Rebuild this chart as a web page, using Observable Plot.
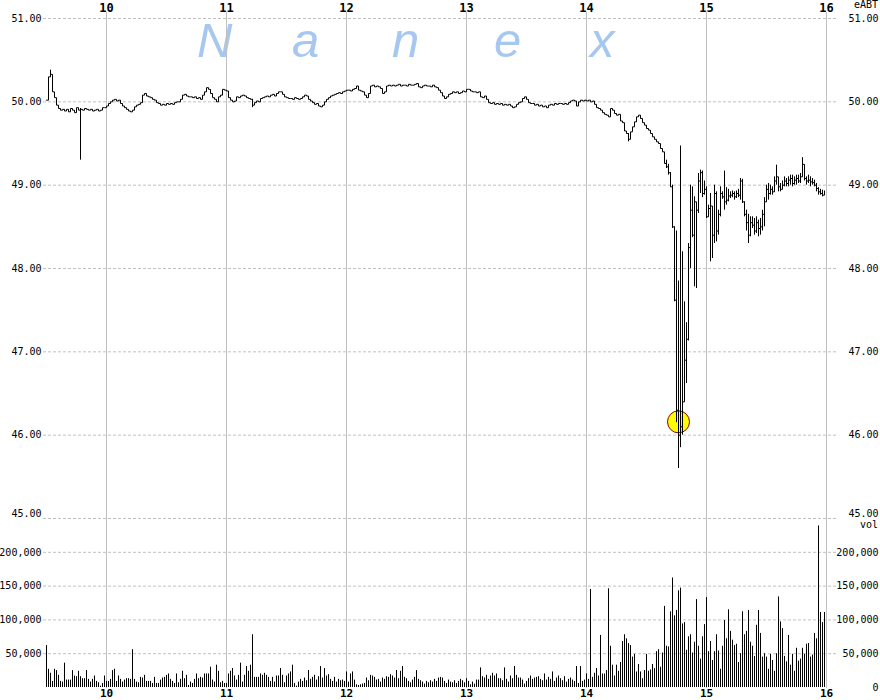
<!DOCTYPE html>
<html><head><meta charset="utf-8">
<script src="https://cdn.jsdelivr.net/npm/d3@7"></script>
<script src="https://cdn.jsdelivr.net/npm/@observablehq/plot@0.6"></script>
<style>
body{margin:0;background:#fff;}
#wrap{position:relative;width:880px;height:700px;overflow:hidden;font-family:"DejaVu Sans Mono",monospace;background:#fff;}
#wrap svg{position:absolute;left:0;background:transparent;}
.wm{position:absolute;font-family:"Liberation Sans",Arial,sans-serif;font-style:italic;font-size:49px;color:#a6c8f0;line-height:36px;}
.lbl{position:absolute;right:2px;font-family:"DejaVu Sans Mono",monospace;font-size:10px;line-height:10px;color:#000;}
</style></head><body><div id="wrap"></div>
<script>
// ---- data ----
const symbol = "eABT";
const volumeLabel = "vol";
const watermark = ["N", "a", "n", "e", "x"];
const hourLabels = [10, 11, 12, 13, 14, 15, 16];
const priceTicks = [45, 46, 47, 48, 49, 50, 51];
const volumeTicks = [0, 50000, 100000, 150000, 200000];

// per-minute close, 9:30 .. 14:39 (minutes 0..309)
const closeCalm = [
50.02,50.30,50.33,50.12,50.05,49.96,49.92,49.90,49.91,49.89,
49.91,49.88,49.92,49.90,49.87,49.93,49.90,49.91,49.90,49.92,
49.91,49.90,49.91,49.89,49.90,49.91,49.89,49.90,49.93,49.93,
49.95,49.98,50.00,50.02,50.03,50.01,50.02,49.98,49.95,49.93,
49.91,49.89,49.88,49.90,49.94,49.96,49.97,49.99,50.08,50.10,
50.07,50.06,50.05,50.03,50.02,49.99,49.98,49.96,49.97,49.96,
49.98,49.97,49.98,49.97,49.99,50.00,50.00,50.03,50.08,50.09,
50.07,50.06,50.06,50.05,50.06,50.04,50.05,50.03,50.08,50.12,
50.17,50.15,50.10,50.05,50.03,50.00,50.06,50.08,50.15,50.14,
50.13,50.05,50.02,50.00,50.01,50.06,50.05,50.07,50.08,50.07,
50.05,50.04,50.03,49.96,49.99,50.01,50.00,50.04,50.05,50.06,
50.07,50.06,50.08,50.09,50.07,50.10,50.12,50.12,50.09,50.06,
50.05,50.04,50.04,50.03,50.05,50.04,50.03,50.04,50.06,50.08,
50.07,50.03,50.01,49.99,49.97,49.98,49.95,49.94,49.96,50.00,
50.03,50.05,50.07,50.08,50.09,50.10,50.11,50.10,50.12,50.13,
50.14,50.14,50.13,50.15,50.16,50.19,50.14,50.13,50.12,50.08,
50.05,50.10,50.19,50.20,50.18,50.19,50.18,50.16,50.10,50.12,
50.19,50.20,50.19,50.20,50.19,50.20,50.21,50.19,50.20,50.20,
50.19,50.21,50.20,50.20,50.21,50.22,50.18,50.17,50.19,50.20,
50.19,50.19,50.18,50.20,50.18,50.17,50.14,50.11,50.07,50.04,
50.06,50.09,50.10,50.12,50.11,50.12,50.10,50.11,50.13,50.12,
50.15,50.15,50.13,50.12,50.12,50.11,50.12,50.06,50.05,50.07,
50.03,49.99,49.98,49.99,49.97,49.98,49.97,49.98,49.96,49.97,
49.96,49.97,49.95,49.93,49.94,49.97,49.99,50.00,50.04,50.06,
50.03,49.99,49.98,49.98,49.96,49.97,49.95,49.96,49.94,49.95,
49.93,49.96,49.97,49.96,49.98,49.97,49.98,49.98,49.97,49.98,
49.97,49.99,50.01,50.02,50.01,49.95,50.00,50.02,50.01,50.02,
50.01,50.02,50.00,50.01,49.97,49.93,49.92,49.90,49.87,49.85,
49.84,49.82,49.92,49.90,49.86,49.84,49.85,49.77,49.75,49.65,
49.62,49.55,49.64,49.70,49.76,49.82,49.84,49.80,49.75,49.72,
49.68,49.66,49.62,49.58,49.55,49.52,49.50,49.44,49.40,49.26
];
// a few visible wicks in the calm part: minute, low, high
const wickMinute = [2, 17, 103, 291];
const wickLow    = [50.30, 49.30, 49.93, 49.52];
const wickHigh   = [50.38, 49.92, 50.03, 49.62];

// 14:40 .. 15:59 (minutes 310..389): close, low, high
const lateClose = [
49.22,49.15,48.98,48.50,47.62,46.30,46.00,46.10,46.40,46.90,
47.15,48.25,48.70,48.40,48.80,48.70,49.05,49.15,48.90,48.95,
48.62,48.72,48.75,48.40,48.90,48.45,48.65,48.90,48.86,48.80,
48.82,48.87,48.88,48.90,48.86,48.90,48.88,49.05,48.80,48.65,
48.55,48.40,48.55,48.52,48.45,48.55,48.48,48.50,48.65,48.80,
48.95,48.90,48.95,48.92,49.05,49.10,48.98,48.95,49.00,49.05,
49.02,49.06,49.08,49.02,49.06,49.08,49.05,49.10,49.25,49.08,
49.05,49.06,49.04,49.03,49.00,48.96,48.92,48.90,48.88,48.92
];
const lateLow = [
49.20,49.12,48.98,48.48,47.60,46.15,45.60,45.85,46.00,46.45,
46.62,47.13,48.00,48.37,47.78,47.76,48.66,48.90,48.85,48.88,
48.60,48.70,48.08,48.12,48.30,48.32,48.40,48.62,48.83,48.70,
48.76,48.80,48.84,48.85,48.82,48.84,48.85,48.82,48.78,48.62,
48.45,48.30,48.38,48.48,48.40,48.42,48.38,48.40,48.45,48.50,
48.80,48.82,48.88,48.88,48.98,49.00,48.92,48.92,48.95,48.98,
48.98,48.98,49.00,48.98,49.00,49.00,49.02,49.02,49.12,49.05,
49.00,49.02,48.98,49.00,48.98,48.92,48.88,48.88,48.86,48.88
];
const lateHigh = [
49.30,49.25,49.15,49.00,48.50,48.45,47.85,49.47,48.20,47.60,
47.35,48.30,49.00,48.98,48.86,48.75,49.14,49.18,49.17,49.05,
48.98,48.76,48.90,48.60,49.00,48.92,48.70,48.98,48.92,49.17,
48.97,48.95,48.92,48.93,48.92,48.93,48.95,49.08,49.07,48.80,
48.70,48.65,48.62,48.62,48.60,48.62,48.58,48.60,48.70,48.85,
49.00,49.02,49.00,48.98,49.10,49.24,49.05,49.02,49.05,49.10,
49.08,49.10,49.12,49.12,49.10,49.12,49.12,49.14,49.33,49.22,
49.10,49.12,49.10,49.08,49.06,49.02,48.97,48.95,48.94,48.93
];

// per-minute volume, thousands of shares (minutes 0..389)
const volumeK = [
62,27,21,9,27,25,18,9,8,36,
11,11,11,25,17,16,24,16,13,13,
25,12,8,12,17,9,7,2,6,17,
9,9,12,25,27,9,17,12,8,11,
13,13,12,56,12,8,7,15,14,18,
9,9,9,6,15,6,6,11,14,15,
18,20,12,9,6,20,7,12,24,13,
18,3,8,6,12,20,13,15,14,20,
20,20,30,11,8,33,24,7,9,6,
6,20,24,28,17,11,18,36,8,18,
31,24,33,78,15,15,15,20,18,21,
18,15,9,15,8,17,17,28,18,7,
17,20,23,33,6,2,8,
12,9,14,10,25,12,15,18,11,16,
31,14,28,17,19,12,9,15,8,12,
10,11,9,23,8,20,23,11,4,3,
4,5,6,14,10,18,17,15,11,12,
8,14,12,16,15,19,17,14,25,13,
24,31,15,13,9,7,11,15,25,12,
10,8,5,9,7,10,8,12,9,14,
15,14,9,6,11,8,7,10,6,9,
12,10,7,13,9,4,8,5,11,11,
29,16,14,18,12,17,21,17,20,13,
13,10,29,12,8,17,13,31,18,14,
14,11,5,9,13,17,12,14,15,16,
12,10,20,11,15,12,23,9,14,17,
13,10,16,8,12,14,11,9,31,6,
31,9,11,20,12,145,15,21,28,17,
77,20,20,25,146,61,33,17,33,24,
37,68,78,72,65,62,45,49,23,34,
23,13,25,49,24,26,34,28,53,56,
30,51,120,61,60,112,162,106,114,143,
147,94,96,55,75,78,51,67,130,61,
42,75,93,133,53,68,40,53,78,54,
27,61,99,72,115,83,70,62,64,37,
50,112,78,83,114,67,61,46,92,114,
80,45,50,45,27,49,40,24,50,134,
97,87,46,38,77,33,49,24,58,39,
42,58,49,64,65,45,48,80,72,239,
111,96,111
];

// flash-crash marker (yellow circle)
const flashMinute = 316;
const flashPrice = 46.16;

// ---- build tables ----
const openTime = new Date(2010, 4, 6, 9, 30);
const closeTime = new Date(2010, 4, 6, 16, 0);
const atMinute = m => d3.timeMinute.offset(openTime, m);
const hourTimes = hourLabels.map(h => new Date(2010, 4, 6, h, 0));
const nCalm = closeCalm.length;

const minutes = volumeK.map((v, m) => ({
  t: atMinute(m),
  close: m < nCalm ? closeCalm[m] : lateClose[m - nCalm],
  vol: v * 1000
}));
const ranges = [
  ...wickMinute.map((m, i) => ({t: atMinute(m), lo: wickLow[i], hi: wickHigh[i]})),
  ...lateClose.map((c, i) => ({t: atMinute(nCalm + i), lo: lateLow[i], hi: lateHigh[i]}))
];
const flash = [{t: atMinute(flashMinute), p: flashPrice}];

const fmtPrice = d3.format(".2f");
const fmtVol = d3.format(",");
const GRID = "#c0c0c0";
const hourFmt = (d) => String(d.getHours());
const baseStyle = {background: "transparent", fontFamily: "DejaVu Sans Mono, monospace", fontSize: "10px", color: "#000", overflow: "visible"};

// ---- price panel ----
const pricePlot = Plot.plot({
  width: 880, height: 530,
  marginTop: 18, marginBottom: 12, marginLeft: 46, marginRight: 54,
  style: baseStyle,
  x: {type: "time", domain: [openTime, closeTime]},
  y: {domain: [45, 51]},
  marks: [
    Plot.ruleY(priceTicks, {stroke: GRID, strokeDasharray: "3,2", insetLeft: -3, insetRight: -11}),
    Plot.ruleX(hourTimes, {stroke: GRID, insetTop: -6}),
    Plot.dot(flash, {x: "t", y: "p", r: 11, fill: "#ffff00", stroke: "#8b0000", strokeWidth: 1}),
    Plot.ruleX(ranges, {x: "t", y1: "lo", y2: "hi", stroke: "#000", strokeWidth: 1}),
    Plot.line(minutes, {x: "t", y: "close", curve: "step-after", stroke: "#000", strokeWidth: 1}),
    Plot.axisY(priceTicks.filter(d => d > 45), {anchor: "left", tickSize: 0, tickPadding: 5, tickFormat: fmtPrice, label: null, fill: "#000"}),
    Plot.axisY([45], {anchor: "left", tickSize: 0, tickPadding: 5, tickFormat: fmtPrice, label: null, dy: -5, fill: "#000"}),
    Plot.axisY(priceTicks.filter(d => d > 45), {anchor: "right", tickSize: 0, tickPadding: 3, textAnchor: "end", dx: 49, tickFormat: fmtPrice, label: null, fill: "#000"}),
    Plot.axisY([45], {anchor: "right", tickSize: 0, tickPadding: 3, textAnchor: "end", dx: 49, dy: -5, tickFormat: fmtPrice, label: null, fill: "#000"}),
    Plot.axisX(hourTimes, {anchor: "top", tickSize: 0, tickPadding: 7, tickFormat: hourFmt, label: null, fontWeight: "bold", fontSize: 12, fill: "#000"})
  ]
});
pricePlot.style.top = "0px";

// ---- volume panel ----
const volPlot = Plot.plot({
  width: 880, height: 200,
  marginTop: 18, marginBottom: 13, marginLeft: 46, marginRight: 54,
  style: baseStyle,
  x: {type: "time", domain: [openTime, closeTime]},
  y: {domain: [0, 250000]},
  marks: [
    Plot.ruleY(volumeTicks.filter(d => d > 0), {stroke: GRID, strokeDasharray: "3,2", insetLeft: -3, insetRight: -11}),
    Plot.ruleX(hourTimes, {stroke: GRID, insetBottom: -1}),
    Plot.ruleX(minutes, {x: "t", y1: 0, y2: "vol", stroke: "#000", strokeWidth: 1}),
    Plot.axisY(volumeTicks.filter(d => d > 0), {anchor: "left", tickSize: 0, tickPadding: 5, tickFormat: fmtVol, label: null, fill: "#000"}),
    Plot.axisY(volumeTicks, {anchor: "right", tickSize: 0, tickPadding: 3, textAnchor: "end", dx: 49, tickFormat: fmtVol, label: null, fill: "#000"}),
    Plot.axisX(hourTimes, {anchor: "bottom", tickSize: 0, tickPadding: 2, tickFormat: hourFmt, label: null, fontWeight: "bold", fontSize: 11, fill: "#000"})
  ]
});
volPlot.style.top = "500px";

const wrap = document.getElementById("wrap");
// watermark
const wmLeft = [197, 292, 392, 494, 590];
watermark.forEach((ch, i) => {
  const s = document.createElement("div");
  s.className = "wm";
  s.textContent = ch;
  s.style.left = wmLeft[i] + "px";
  s.style.top = "22px";
  wrap.appendChild(s);
});
wrap.appendChild(pricePlot);
wrap.appendChild(volPlot);
const sym = document.createElement("div");
sym.className = "lbl"; sym.textContent = symbol; sym.style.top = "0px";
wrap.appendChild(sym);
const vl = document.createElement("div");
vl.className = "lbl"; vl.textContent = volumeLabel; vl.style.top = "520px";
wrap.appendChild(vl);
</script>
</body></html>
